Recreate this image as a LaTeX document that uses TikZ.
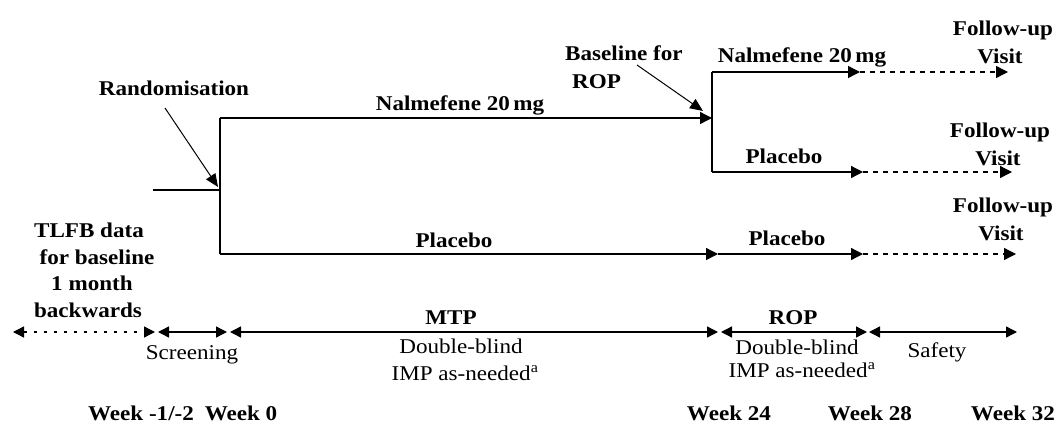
\documentclass[tikz,border=0pt]{standalone}
\usepackage{fontspec}
\setmainfont{Liberation Serif}[FakeStretch=1.1]
\usetikzlibrary{arrows.meta}
\begin{document}
\begin{tikzpicture}[x=1pt,y=-1pt,
  lbl/.style={anchor=base,inner sep=0pt,font=\fontsize{21}{26}\selectfont\bfseries},
  txt/.style={anchor=base,inner sep=0pt,font=\fontsize{21}{26}\selectfont},
  ln/.style={line width=1.3pt},
  arr/.style={ln,-{Triangle[length=12pt,width=12pt]}},
  darr/.style={arr,dash pattern=on 5pt off 5pt},
  both/.style={ln,{Triangle[length=11pt,width=11pt]}-{Triangle[length=11pt,width=11pt]}},
  pointer/.style={line width=1pt,-{Triangle[length=13pt,width=11pt]}}]
\useasboundingbox (0,0) rectangle (1058,423);
% junction points
\coordinate (r0) at (153,190);
\coordinate (r1) at (220,190);
\coordinate (vt) at (220,118);
\coordinate (vb) at (220,254);
\coordinate (n1) at (712,118);
\coordinate (p1) at (718,254);
\coordinate (p2) at (863,254);
\coordinate (p3) at (1016,254);
\coordinate (wt) at (712,72);
\coordinate (wb) at (712,172);
\coordinate (a1) at (860,72);
\coordinate (a2) at (1008,72);
\coordinate (b1) at (863,172);
\coordinate (b2) at (1012,172);
\coordinate (rs) at (165,108);
\coordinate (re) at (218,187);
\coordinate (bs) at (637,65);
\coordinate (be) at (703,111);
% timeline points
\coordinate (t0) at (13,332);
\coordinate (t1) at (155,332);
\coordinate (t2) at (158,332);
\coordinate (t3) at (227,332);
\coordinate (t4) at (230,332);
\coordinate (t5) at (718,332);
\coordinate (t6) at (721,332);
\coordinate (t7) at (867,332);
\coordinate (t8) at (869,332);
\coordinate (t9) at (1017,332);
% branches
\draw[ln] (r0) -- (r1);
\draw[ln] (vt) -- (vb);
\draw[arr] (vt) -- (n1);
\draw[arr] (vb) -- (p1);
\draw[arr] (p1) -- (p2);
\draw[darr] (p2) -- (p3);
\draw[ln] (wt) -- (wb);
\draw[arr] (wt) -- (a1);
\draw[darr] (a1) -- (a2);
\draw[arr] (wb) -- (b1);
\draw[darr] (b1) -- (b2);
\draw[pointer] (rs) -- (re);
\draw[pointer] (bs) -- (be);
% timeline
\draw[both,dash pattern=on 3pt off 7pt] (t0) -- (t1);
\draw[both] (t2) -- (t3);
\draw[both] (t4) -- (t5);
\draw[both] (t6) -- (t7);
\draw[both] (t8) -- (t9);
% labels
\node[lbl] (rand) at (174,95) {Randomisation};
\node[lbl] (nal1) at (460,110) {Nalmefene 20\,mg};
\node[lbl] (pla1) at (454,247) {Placebo};
\node[lbl] (pla2) at (787,245) {Placebo};
\node[lbl] (nal2) at (802,62) {Nalmefene 20\,mg};
\node[lbl] (pla3) at (784,163) {Placebo};
\node[lbl,anchor=base west] (bl1) at (565,60) {Baseline for};
\node[lbl,anchor=base west] (bl2) at (572,88) {ROP};
\node[lbl] (fu1a) at (1003,35) {Follow-up};
\node[lbl] (fu1b) at (1000,63) {Visit};
\node[lbl] (fu2a) at (1000,137) {Follow-up};
\node[lbl] (fu2b) at (998,165) {Visit};
\node[lbl] (fu3a) at (1003,212) {Follow-up};
\node[lbl] (fu3b) at (1001,240) {Visit};
\node[lbl] (tl1) at (89,237) {TLFB data};
\node[lbl] (tl2) at (97,264) {for baseline};
\node[lbl] (tl3) at (92,290) {1 month};
\node[lbl] (tl4) at (88,317) {backwards};
\node[txt] (scr) at (192,359) {Screening};
\node[lbl] (mtp) at (451,324) {MTP};
\node[txt] (mdb) at (461,353) {Double-blind};
\node[txt] (mimp) at (465,380) {IMP as-needed\textsuperscript{a}};
\node[lbl] (rop) at (793,324) {ROP};
\node[txt] (rdb) at (797,354) {Double-blind};
\node[txt] (rimp) at (802,377) {IMP as-needed\textsuperscript{a}};
\node[txt] (saf) at (937,357) {Safety};
\node[lbl] (w1) at (141,420) {Week -1/-2};
\node[lbl] (w2) at (241,420) {Week 0};
\node[lbl] (w3) at (729,420) {Week 24};
\node[lbl] (w4) at (870,420) {Week 28};
\node[lbl] (w5) at (1013,420) {Week 32};
\end{tikzpicture}
\end{document}
